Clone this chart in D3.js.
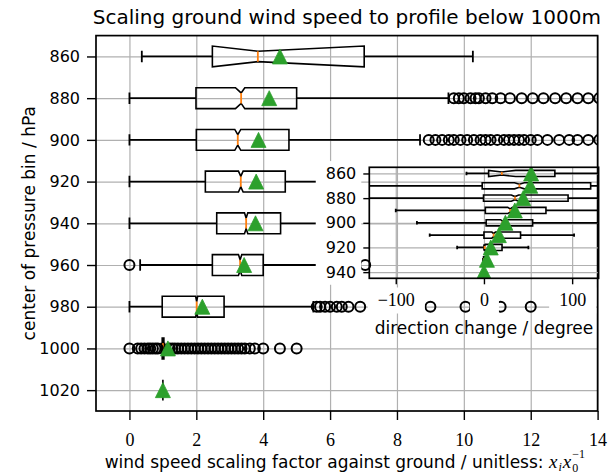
<!DOCTYPE html>
<html>
<head>
<meta charset="utf-8">
<script src="https://cdn.jsdelivr.net/npm/d3@7"></script>
<style>
  body { margin: 0; background: #fff; }
  svg { display: block; }
</style>
</head>
<body>
<div id="wrapper"></div>
<script>
// pressure bins (rows, top to bottom)
const levels = [860, 880, 900, 920, 940, 960, 980, 1000, 1020];

// main plot: wind speed scaling factor
const scaleQ1      = [2.48, 1.99, 2.0, 2.27, 2.61, 2.48, 0.98, 0.98, 1.0];
const scaleMed     = [3.84, 3.34, 3.24, 3.33, 3.49, 3.31, 2.01, 1.0, 1.0];
const scaleQ3      = [7.02, 5.0, 4.77, 4.66, 4.52, 4.0, 2.83, 1.03, 1.0];
const scaleNotchLo = [2.48, 3.17, 3.15, 3.26, 3.44, 3.26, 1.98, 0.99, 1.0];
const scaleNotchHi = [7.02, 3.45, 3.33, 3.40, 3.54, 3.36, 2.04, 1.01, 1.0];
const scaleWhiskLo = [0.37, 0, 0, 0, 0, 0.32, 0, 0.95, 1.0];
const scaleWhiskHi = [10.27, 9.54, 8.69, 6.8, 6.7, 6.2, 5.5, 1.05, 1.0];
const scaleMean    = [4.5, 4.18, 3.86, 3.79, 3.77, 3.43, 2.18, 1.15, 1.0];
const scaleOutliers = [
    [],
    [9.7, 9.85, 10.0, 10.2, 10.35, 10.45, 10.65, 10.85, 11.1, 11.38, 11.73, 12.06, 12.38, 12.73, 13.06, 13.4, 13.72, 14.05],
    [8.95, 9.15, 9.35, 9.55, 9.7, 9.9, 10.1, 10.3, 10.5, 10.65, 10.8, 11.0, 11.2, 11.35, 11.5, 11.65, 11.8, 12.0, 12.2, 12.5, 12.85, 13.15, 13.4, 13.72, 14.05],
    [],
    [],
    [0.0, 7.05],
    [5.6, 5.7, 5.85, 6.0, 6.2, 6.35, 6.55, 6.9, 8.0, 9.0, 10.05, 11.1, 12.0],
    [0.0, 0.25, 0.35, 0.45, 0.55, 0.62, 0.7, 0.78, 0.85, 1.2, 1.28, 1.36, 1.45, 1.55, 1.65, 1.75, 1.85, 1.95, 2.05, 2.15,
     2.25, 2.35, 2.45, 2.55, 2.65, 2.75, 2.85, 2.95, 3.05, 3.15, 3.25, 3.35, 3.45, 3.6, 3.75, 4.0, 4.5, 5.0],
    []
];
const scaleTicks = [0, 2, 4, 6, 8, 10, 12, 14];

// inset: direction change in degree
const dirQ1      = [5.3, -2, -0.5, 1.6, 2.5, 0, 0, -0.5, 0];
const dirMed     = [20.3, 40.2, 35.2, 29.7, 21, 11, 0.8, 0, 0];
const dirQ3      = [80.4, 121, 95.4, 70.3, 55.2, 41.5, 20.5, 0.5, 0];
const dirNotchLo = [5.3, 34.6, 31, 27, 19, 9, 0, -0.1, 0];
const dirNotchHi = [36, 45.8, 39.4, 32.4, 23, 13, 1.6, 0.1, 0];
const dirWhiskLo = [-19.8, -160, -160, -100, -76, -61.5, -30.4, -1, 0];
const dirWhiskHi = [160, 160, 160, 160, 160, 102.2, 50.4, 1, 0];
const dirMean    = [53.5, 52.5, 44.5, 35, 24.3, 16.9, 7.7, 3.4, 0];
const dirTicks = [-100, 0, 100];
const insetTickRows = [860, 900, 940, 980, 1020];
const insetTickLabels = [860, 880, 900, 920, 940];

const sans = "'DejaVu Sans', sans-serif";
const serif = "'Liberation Serif', serif";

const width = 608, height = 475;
const main = { left: 96, right: 597.6, top: 35.6, bottom: 411 };
const ins = { left: 369.3, right: 598.6, top: 167.3, bottom: 278.3 };

const svg = d3.select("#wrapper").append("svg")
    .attr("width", width).attr("height", height);

const defs = svg.append("defs");
defs.append("clipPath").attr("id", "clipMain").append("rect")
    .attr("x", main.left).attr("y", main.top)
    .attr("width", main.right - main.left).attr("height", main.bottom - main.top);
defs.append("clipPath").attr("id", "clipInset").append("rect")
    .attr("x", ins.left).attr("y", ins.top)
    .attr("width", ins.right - ins.left).attr("height", ins.bottom - ins.top);

function drawBoxes(g, x, y, st, half, triSize) {
    const notch = half * 0.5, cap = half * 0.55;
    levels.forEach((lev, i) => {
        const cy = y(lev);
        const row = g.append("g").attr("stroke", "black").attr("stroke-width", 1.8).attr("fill", "none");
        row.append("line").attr("x1", x(st.wlo[i])).attr("x2", x(st.q1[i])).attr("y1", cy).attr("y2", cy);
        row.append("line").attr("x1", x(st.q3[i])).attr("x2", x(st.whi[i])).attr("y1", cy).attr("y2", cy);
        [st.wlo[i], st.whi[i]].forEach(v => {
            row.append("line").attr("x1", x(v)).attr("x2", x(v)).attr("y1", cy - cap).attr("y2", cy + cap);
        });
        const pts = [
            [st.q1[i], -half], [st.q1[i], half], [st.clo[i], half], [st.med[i], notch],
            [st.chi[i], half], [st.q3[i], half], [st.q3[i], -half], [st.chi[i], -half],
            [st.med[i], -notch], [st.clo[i], -half], [st.q1[i], -half]
        ];
        row.append("path")
            .attr("d", d3.line().x(p => x(p[0])).y(p => cy + p[1])(pts) + "Z")
            .attr("stroke-width", 1.6);
        if (st.q1[i] !== st.q3[i]) {
            row.append("line").attr("stroke", "#ff7f0e")
                .attr("x1", x(st.med[i])).attr("x2", x(st.med[i]))
                .attr("y1", cy - notch).attr("y2", cy + notch);
        }
        if (st.out) {
            row.selectAll("circle.fl").data(st.out[i]).join("circle")
                .attr("cx", d => x(d)).attr("cy", cy).attr("r", 5).attr("stroke-width", 2);
        }
        const h = triSize / 2;
        g.append("path")
            .attr("d", `M${x(st.mean[i])},${cy - h}L${x(st.mean[i]) - h},${cy + h}L${x(st.mean[i]) + h},${cy + h}Z`)
            .attr("fill", "#2ca02c").attr("stroke", "#2ca02c").attr("stroke-width", 0.8);
    });
}

// ---------- main axes ----------
const x = d3.scaleLinear().domain([-1, 14]).range([main.left, main.right]);
const y = d3.scalePoint().domain(levels).range([main.top, main.bottom]).padding(0.5);

const gridMain = svg.append("g");
gridMain.append("g").attr("transform", `translate(0,${main.bottom})`)
    .call(d3.axisBottom(x).tickValues(scaleTicks).tickSize(-(main.bottom - main.top)).tickFormat(""));
gridMain.append("g").attr("transform", `translate(${main.left},0)`)
    .call(d3.axisLeft(y).tickSize(-(main.right - main.left)).tickFormat(""));
gridMain.selectAll(".domain").remove();
gridMain.selectAll("line").attr("stroke", "#b0b0b0").attr("stroke-width", 1.2);

const plotMain = svg.append("g").attr("clip-path", "url(#clipMain)");
drawBoxes(plotMain, x, y, {
    q1: scaleQ1, med: scaleMed, q3: scaleQ3, clo: scaleNotchLo, chi: scaleNotchHi,
    wlo: scaleWhiskLo, whi: scaleWhiskHi, mean: scaleMean, out: scaleOutliers
}, (y.step() * 0.5) / 2, 15);

svg.append("rect")
    .attr("x", main.left).attr("y", main.top)
    .attr("width", main.right - main.left).attr("height", main.bottom - main.top)
    .attr("fill", "none").attr("stroke", "black").attr("stroke-width", 1.7);

const xAxis = svg.append("g").attr("transform", `translate(0,${main.bottom})`)
    .call(d3.axisBottom(x).tickValues(scaleTicks).tickSize(9));
xAxis.selectAll("text").attr("y", 35).attr("dy", 0)
    .attr("font-family", serif).attr("font-size", 18);

const yAxis = svg.append("g").attr("transform", `translate(${main.left},0)`)
    .call(d3.axisLeft(y).tickSize(9).tickPadding(7));
yAxis.selectAll("text").attr("font-family", sans).attr("font-size", 16);

[xAxis, yAxis].forEach(a => {
    a.select(".domain").remove();
    a.selectAll("line").attr("stroke", "black").attr("stroke-width", 1.4);
});

svg.append("text")
    .attr("x", (main.left + main.right) / 2).attr("y", 24)
    .attr("text-anchor", "middle").attr("font-family", sans).attr("font-size", 20)
    .text("Scaling ground wind speed to profile below 1000m");

svg.append("text")
    .attr("transform", `translate(35,${(main.top + main.bottom) / 2}) rotate(-90)`)
    .attr("text-anchor", "middle").attr("font-family", sans).attr("font-size", 17)
    .text("center of pressure bin / hPa");

const xl = svg.append("text")
    .attr("x", (main.left + main.right) / 2 - 2).attr("y", 468)
    .attr("text-anchor", "middle").attr("font-family", sans).attr("font-size", 17);
xl.append("tspan").text("wind speed scaling factor against ground / unitless: ");
xl.append("tspan").attr("font-family", serif).attr("font-style", "italic").attr("font-size", 19).text("x");
xl.append("tspan").attr("font-family", serif).attr("font-style", "italic").attr("font-size", 12).attr("dx", 1).attr("dy", 3).text("i");
xl.append("tspan").attr("font-family", serif).attr("font-style", "italic").attr("font-size", 19).attr("dx", 1).attr("dy", -3).text("x");
xl.append("tspan").attr("font-family", serif).attr("font-size", 12).attr("dx", 1).attr("dy", 4).text("0");
xl.append("tspan").attr("font-family", serif).attr("font-size", 12).attr("dx", -6).attr("dy", -14).text("\u22121");

// ---------- inset axes ----------
const xi = d3.scaleLinear().domain([-130, 130]).range([ins.left, ins.right]);
const yi = d3.scalePoint().domain(levels).range([ins.top, ins.bottom]).padding(0.5);

const gridIns = svg.append("g");
gridIns.append("g").attr("transform", `translate(0,${ins.bottom})`)
    .call(d3.axisBottom(xi).tickValues(dirTicks).tickSize(-(ins.bottom - ins.top)).tickFormat(""));
gridIns.append("g").attr("transform", `translate(${ins.left},0)`)
    .call(d3.axisLeft(yi).tickValues(insetTickRows).tickSize(-(ins.right - ins.left)).tickFormat(""));
gridIns.selectAll(".domain").remove();
gridIns.selectAll("line").attr("stroke", "#b0b0b0").attr("stroke-width", 1.2);

const plotIns = svg.append("g").attr("clip-path", "url(#clipInset)");
drawBoxes(plotIns, xi, yi, {
    q1: dirQ1, med: dirMed, q3: dirQ3, clo: dirNotchLo, chi: dirNotchHi,
    wlo: dirWhiskLo, whi: dirWhiskHi, mean: dirMean, out: null
}, (yi.step() * 0.5) / 2, 15);

svg.append("rect")
    .attr("x", ins.left).attr("y", ins.top)
    .attr("width", ins.right - ins.left).attr("height", ins.bottom - ins.top)
    .attr("fill", "none").attr("stroke", "black").attr("stroke-width", 1.7);

const xiAxis = svg.append("g").attr("transform", `translate(0,${ins.bottom})`)
    .call(d3.axisBottom(xi).tickValues(dirTicks).tickSize(6));
xiAxis.selectAll("text").attr("y", 28.2).attr("dy", 0)
    .attr("font-family", serif).attr("font-size", 18);

const yiAxis = svg.append("g").attr("transform", `translate(${ins.left},0)`)
    .call(d3.axisLeft(yi).tickValues(insetTickRows).tickSize(6).tickPadding(7)
        .tickFormat((d, i) => insetTickLabels[i]));
yiAxis.selectAll("text").attr("font-family", sans).attr("font-size", 16);

[xiAxis, yiAxis].forEach(a => {
    a.select(".domain").remove();
    a.selectAll("line").attr("stroke", "black").attr("stroke-width", 1.4);
});

// white backing behind the inset tick labels
function textBg(sel, padL, padR, padY) {
    sel.each(function () {
        const b = this.getBBox();
        d3.select(this.parentNode).insert("rect", ":first-child")
            .attr("x", b.x - padL).attr("y", b.y - padY)
            .attr("width", b.width + padL + padR).attr("height", b.height + 2 * padY)
            .attr("fill", "white");
    });
}
textBg(yiAxis.selectAll("text"), 10, 5, 3);
textBg(xiAxis.selectAll("text"), 10, 10, 3);

svg.append("text")
    .attr("x", (ins.left + ins.right) / 2).attr("y", 334)
    .attr("text-anchor", "middle").attr("font-family", sans).attr("font-size", 17)
    .text("direction change / degree");
</script>
</body>
</html>
